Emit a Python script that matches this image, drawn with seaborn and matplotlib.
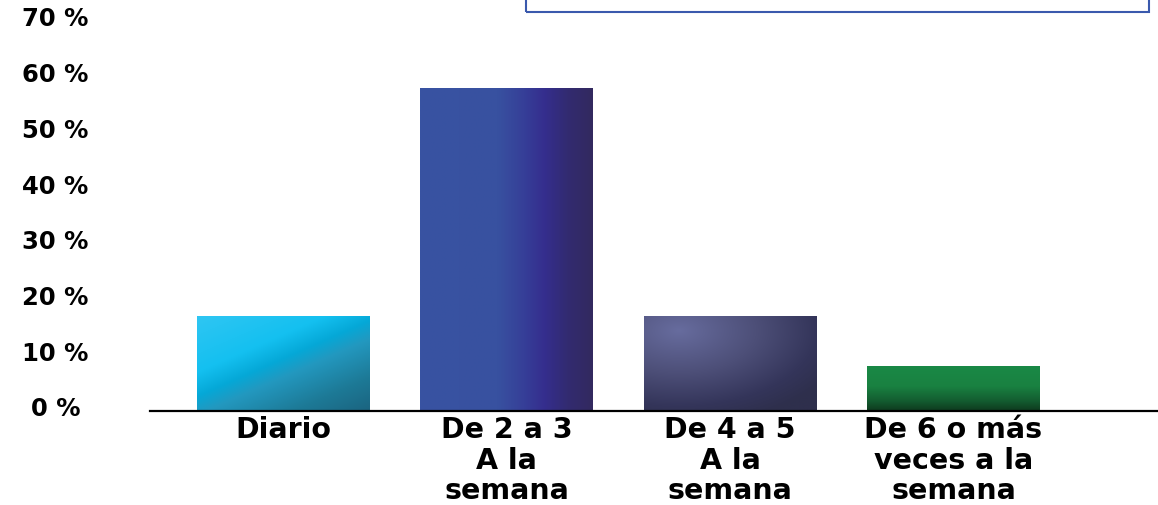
import numpy as np
import matplotlib
matplotlib.use("Agg")
import matplotlib.pyplot as plt
import matplotlib.transforms as mtransforms
from matplotlib.colors import to_rgb
from matplotlib.patches import Rectangle
import seaborn as sns

# Frecuencia semanal (porcentaje de respuestas)
categories = [
    "Diario",
    "De 2 a 3\nA la\nsemana",
    "De 4 a 5\nA la\nsemana",
    "De 6 o más\nveces a la\nsemana",
]
percentages = [17, 58, 17, 8]
y_ticks = [0, 10, 20, 30, 40, 50, 60, 70]
y_tick_labels = ["0 %", "10 %", "20 %", "30 %", "40 %", "50 %", "60 %", "70 %"]

sns.set_style("white")
plt.rcParams["font.family"] = ["DejaVu Sans"]

# gradient stops and direction for every bar
bar_fills = {
    "Diario": ("diag", [(0.0, "#2fc6f3"), (0.33, "#14c0f0"), (0.47, "#05a8d7"),
                        (0.58, "#2398bf"), (0.8, "#1d7a97"), (1.0, "#1b6480")]),
    categories[1]: ("horiz", [(0.0, "#3853a2"), (0.45, "#3851a0"), (0.6, "#363f98"),
                              (0.72, "#352e8e"), (0.86, "#322b70"), (1.0, "#33295f")]),
    categories[2]: ("radial", [(0.0, "#676c9e"), (0.45, "#4d4f78"), (0.8, "#34355a"),
                               (1.0, "#2e2f4c")]),
    categories[3]: ("vert", [(0.0, "#1a8946"), (0.45, "#198141"), (0.78, "#135c30"),
                             (1.0, "#0e3a1e")]),
}
base_colors = {k: v[1][len(v[1]) // 2][1] for k, v in bar_fills.items()}


def gradient_image(kind, stops, n=120):
    u, v = np.meshgrid(np.linspace(0, 1, n), np.linspace(0, 1, n))
    if kind == "diag":
        t = (0.8 * u + v) / 1.8
    elif kind == "horiz":
        t = u
    elif kind == "vert":
        t = v
    else:
        t = np.sqrt(((u - 0.2) / 1.0) ** 2 + ((v - 0.15) / 1.0) ** 2)
    t = np.clip(t, 0, 1)
    pos = [s[0] for s in stops]
    cols = np.array([to_rgb(s[1]) for s in stops])
    img = np.zeros((n, n, 3))
    for c in range(3):
        img[..., c] = np.interp(t, pos, cols[:, c])
    return img


fig = plt.figure(figsize=(11.58, 5.06), dpi=100)
ax = fig.add_axes([150 / 1158, 94 / 506, 1008 / 1158, 390 / 506])

sns.barplot(x=categories, y=percentages, hue=categories, palette=base_colors,
            width=0.77, saturation=1, legend=False, edgecolor="none", ax=ax)

# paint each bar with its gradient, clipped to the bar shape
for container in ax.containers:
    for patch in container:
        x0, y0 = patch.get_x(), patch.get_y()
        w, h = patch.get_width(), patch.get_height()
        idx = int(round(x0 + w / 2))
        kind, stops = bar_fills[categories[idx]]
        im = ax.imshow(gradient_image(kind, stops), extent=[x0, x0 + w, y0, y0 + h],
                       origin="upper", aspect="auto", interpolation="bilinear",
                       zorder=patch.get_zorder() + 0.1)
        im.set_clip_path(patch)

ax.set_xlim(-0.595, 3.915)
ax.set_ylim(0, 70)
ax.set_xlabel("")
ax.set_ylabel("")

ax.set_yticks(y_ticks, y_tick_labels)
ax.tick_params(axis="y", length=0, pad=68, labelsize=17.5, labelcolor="black")
shift = mtransforms.ScaledTranslation(0, 5 / 100, fig.dpi_scale_trans)
for lab in ax.get_yticklabels():
    lab.set_horizontalalignment("center")
    lab.set_fontweight("bold")
    lab.set_transform(lab.get_transform() + shift)

ax.tick_params(axis="x", length=0, pad=3, labelsize=20.5, labelcolor="black")
for lab in ax.get_xticklabels():
    lab.set_fontweight("bold")
    lab.set_linespacing(1.12)

for side in ["left", "right", "top"]:
    ax.spines[side].set_visible(False)
ax.spines["bottom"].set_color("black")
ax.spines["bottom"].set_linewidth(1.6)

# framed box along the top edge
fig.add_artist(Rectangle((526 / 1158, (506 - 13) / 506), (1149 - 526) / 1158, 0.1,
                         transform=fig.transFigure, fill=False,
                         edgecolor="#3a59ad", linewidth=1.5))

fig.savefig("out.png", dpi=100, facecolor="white")
